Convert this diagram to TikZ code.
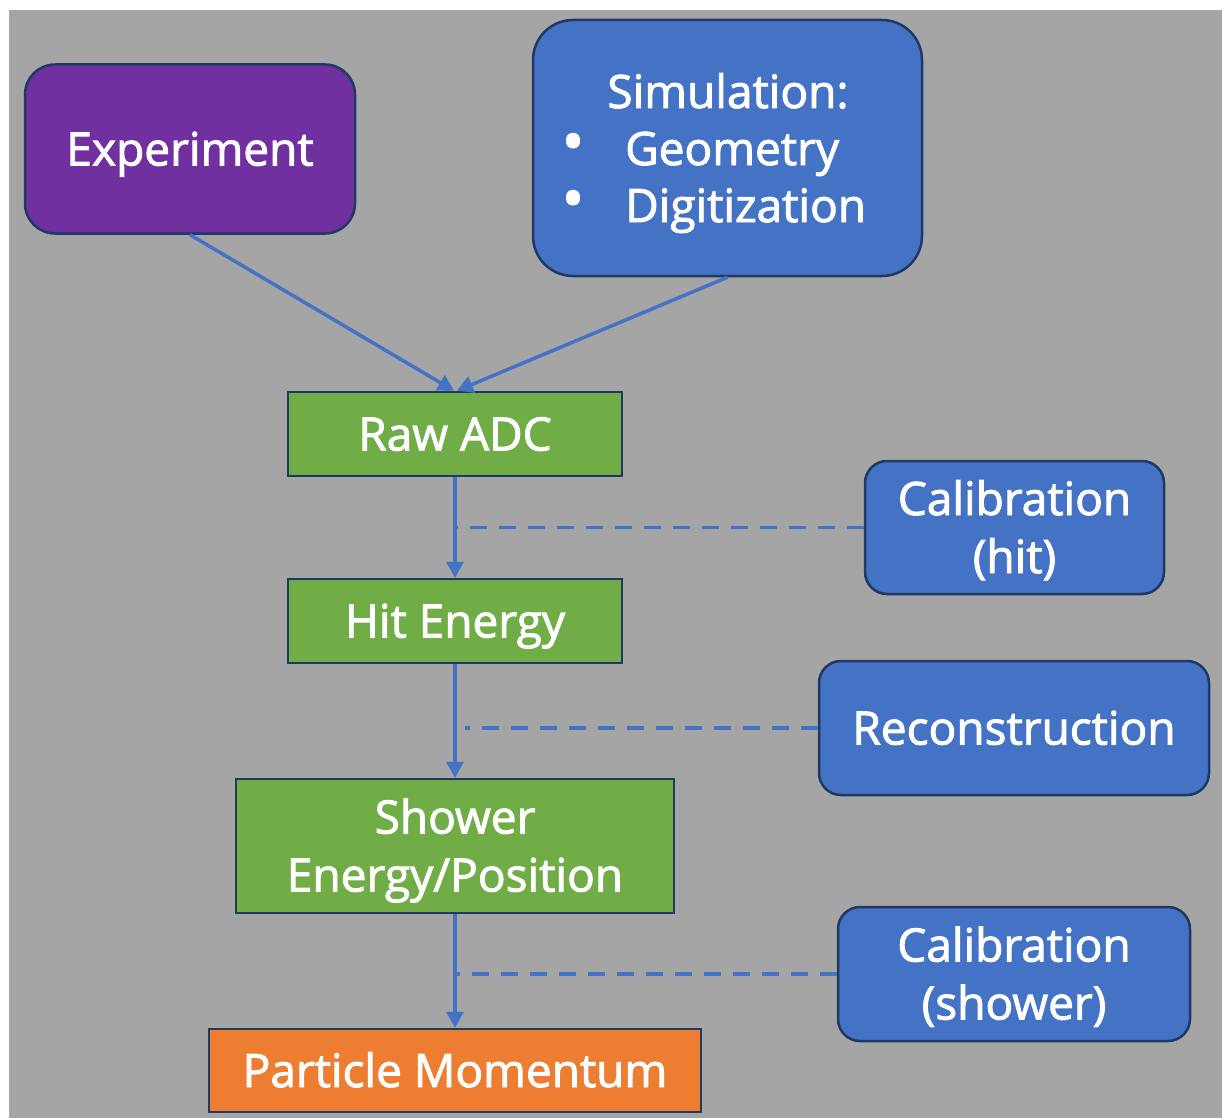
\documentclass[tikz,border=0pt]{standalone}
\usepackage{fontspec}
\setmainfont{Open Sans}[BoldFont={Open Sans}, BoldFeatures={FakeBold=2}]
\usetikzlibrary{arrows.meta,calc}
\definecolor{bg}{HTML}{A5A5A5}
\definecolor{bordercol}{HTML}{1F3864}
\definecolor{cpurple}{HTML}{7030A0}
\definecolor{cblue}{HTML}{4472C4}
\definecolor{cgreen}{HTML}{70AD47}
\definecolor{corange}{HTML}{ED7D31}
\newcommand{\boxfont}{\fontsize{46}{58}\selectfont\bfseries}
\tikzset{
  box/.style={draw=bordercol, line width=2.5pt, text=white, font=\boxfont, align=center, inner sep=0pt, text height=33pt, text depth=0pt},
  twoline/.style={text height=91pt, text depth=0pt},
  label text/.style={text=white, font=\boxfont, inner sep=0pt},
  flow/.style={draw=cblue, line width=3.5pt, -{Triangle[length=16pt,width=17pt]}},
  guide/.style={draw=cblue, line width=3.5pt, dash pattern=on 17pt off 12pt},
}
\begin{document}
\begin{tikzpicture}[x=1pt,y=-1pt]
\useasboundingbox (0,0) rectangle (1222,1118);
\fill[white] (0,0) rectangle (1222,1118);
\fill[bg] (9,10) rectangle (1222,1118);

\node[box, fill=cpurple, rounded corners=30pt, minimum width=330pt, minimum height=169pt] (exp) at (190,149) {Experiment};
\node[draw=bordercol, line width=2.5pt, fill=cblue, rounded corners=40pt, minimum width=389pt, minimum height=256pt, inner sep=0pt] (sim) at (727.5,148) {};
\node[label text, anchor=base] (simt) at (728,108) {Simulation:};
\node[label text, scale=1.3] (b1) at (573,148) {•};
\node[label text, anchor=base west] (g1) at (625,165) {Geometry};
\node[label text, scale=1.3] (b2) at (573,205) {•};
\node[label text, anchor=base west] (g2) at (625,222) {Digitization};

\node[box, fill=cgreen, minimum width=334pt, minimum height=84pt] (raw) at (455,434) {Raw ADC};
\node[box, twoline, fill=cblue, rounded corners=22pt, minimum width=299pt, minimum height=133pt] (calhit) at (1014.5,527.5) {Calibration\\(hit)};
\node[box, fill=cgreen, minimum width=334pt, minimum height=84pt] (hit) at (455,621) {Hit Energy};
\node[box, fill=cblue, rounded corners=22pt, minimum width=390pt, minimum height=134pt] (reco) at (1014,728) {Reconstruction};
\node[box, twoline, fill=cgreen, minimum width=438pt, minimum height=134pt] (shower) at (455,846) {Shower\\Energy/Position};
\node[box, twoline, fill=cblue, rounded corners=22pt, minimum width=352pt, minimum height=134pt] (calsh) at (1014,974) {Calibration\\(shower)};
\node[box, fill=corange, minimum width=492pt, minimum height=83pt] (pm) at (455,1070.5) {Particle Momentum};

\draw[flow] (exp.south) -- ([xshift=-1pt]raw.north);
\draw[flow] (sim.south) -- ([xshift=2pt]raw.north);
\draw[flow] (raw.south) -- (hit.north);
\draw[flow] (hit.south) -- (shower.north);
\draw[flow] (shower.south) -- (pm.north);
\draw[guide] (calhit.west) -- (calhit.west -| raw.south);
\draw[guide] (reco.west) -- ([xshift=10pt]reco.west -| hit.south);
\draw[guide] (calsh.west) -- (calsh.west -| shower.south);
\end{tikzpicture}
\end{document}
